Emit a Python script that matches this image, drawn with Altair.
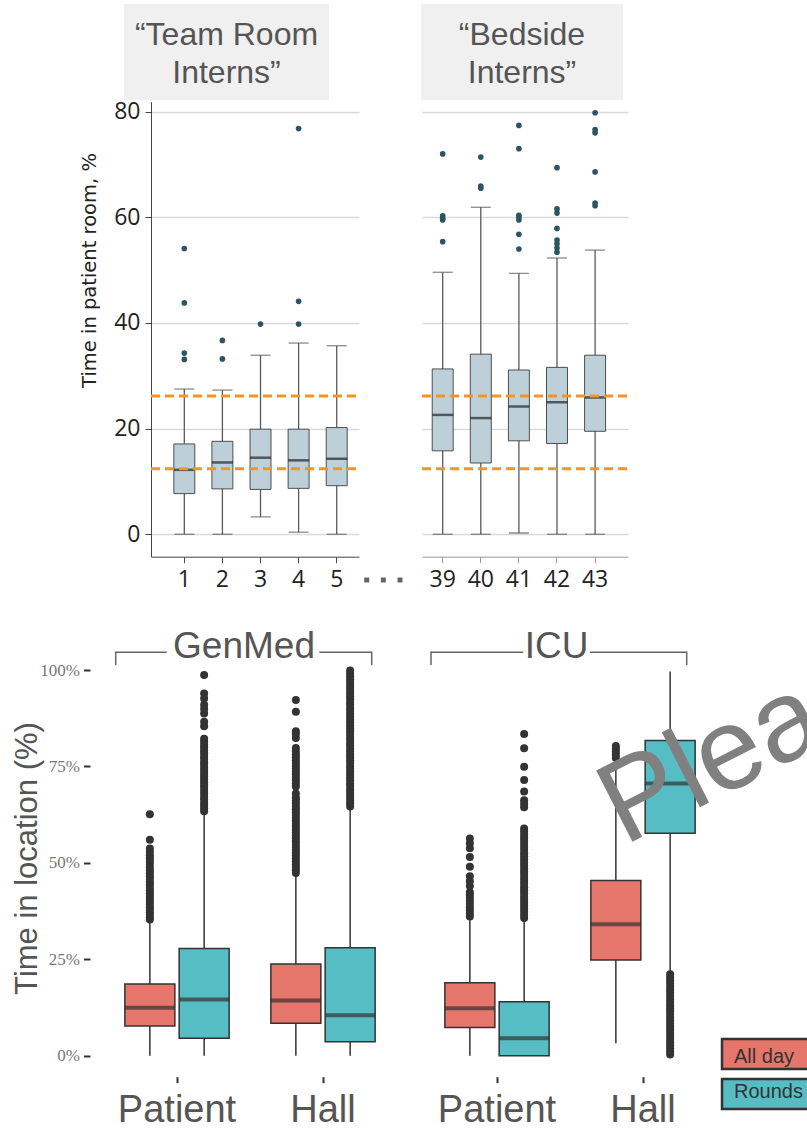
import altair as alt
import pandas as pd

W, H = 807, 1129
SANS = "Liberation Sans"
SERIF = "Liberation Serif"
UI = "Open Sans"
WIDE = "DejaVu Sans"

# ---------------- upper figure: time in patient room per intern (%) ----------------
team_ids = ["1", "2", "3", "4", "5"]
team_low = [0.0, 0.0, 3.3, 0.4, 0.0]
team_q1 = [7.7, 8.6, 8.5, 8.7, 9.2]
team_median = [12.2, 13.6, 14.5, 14.0, 14.3]
team_q3 = [17.1, 17.6, 19.9, 19.9, 20.2]
team_high = [27.5, 27.3, 33.9, 36.2, 35.7]
team_outliers = [[54.1, 43.8, 34.3, 33.1], [36.7, 33.2], [39.8], [76.8, 44.1, 39.8], []]

bedside_ids = ["39", "40", "41", "42", "43"]
bedside_low = [0.0, 0.0, 0.25, 0.0, 0.0]
bedside_q1 = [15.8, 13.5, 17.7, 17.2, 19.5]
bedside_median = [22.6, 22.0, 24.2, 25.0, 25.9]
bedside_q3 = [31.3, 34.1, 31.1, 31.6, 33.9]
bedside_high = [49.6, 61.9, 49.4, 52.3, 53.8]
bedside_outliers = [
    [72.0, 60.3, 59.8, 59.5, 55.4],
    [71.4, 65.9, 65.5],
    [77.4, 73.0, 60.4, 60.0, 59.5, 56.8, 54.0],
    [69.4, 61.6, 60.8, 57.9, 55.7, 55.0, 54.2, 53.4],
    [79.8, 76.6, 76.0, 68.6, 62.7, 62.2],
]
reference_levels = [12.4, 26.2]
room_ticks = [0, 20, 40, 60, 80]
panel_titles = ["“Team Room\nInterns”", "“Bedside\nInterns”"]
gap_marks = [0, 1, 2]

# ---------------- lower figure: time in location by unit (%) ----------------
units = ["GenMed", "ICU"]
locations = ["Patient", "Hall"]
periods = ["All day", "Rounds"]
period_colors = ["#E6756B", "#56BDC4"]
# boxes ordered Patient/All day, Patient/Rounds, Hall/All day, Hall/Rounds
genmed_low = [0.0, 0.0, 0.0, 0.0]
genmed_q1 = [7.7, 4.5, 8.4, 3.6]
genmed_median = [12.4, 14.6, 14.3, 10.5]
genmed_q3 = [18.6, 27.8, 23.8, 28.0]
genmed_high = [34.7, 62.7, 46.8, 64.1]
genmed_outliers = [
    [35.3, 35.9, 36.6, 37.2, 37.9, 38.5, 39.3, 40.0, 40.6, 41.4, 42.1, 42.8, 43.5, 44.3,
     45.0, 45.8, 46.5, 47.3, 48.1, 48.8, 49.7, 50.5, 51.2, 52.0, 52.9, 53.7, 56.0, 62.6],
    [63.4, 64.1, 64.9, 65.6, 66.4, 67.1, 67.9, 68.6, 69.4, 70.1, 70.9, 71.6, 72.4, 73.1,
     73.9, 74.6, 75.4, 76.1, 76.9, 77.6, 78.4, 79.1, 79.9, 80.6, 81.4, 82.2, 85.4, 86.6,
     88.7, 89.9, 91.0, 92.6, 93.9, 98.7],
    [47.4, 48.1, 48.9, 49.6, 50.4, 51.1, 51.9, 52.6, 53.4, 54.1, 54.9, 55.6, 56.4, 57.1,
     57.9, 58.6, 59.4, 60.1, 60.9, 61.6, 62.4, 63.1, 63.9, 64.6, 65.4, 66.1, 66.9, 68.0,
     69.8, 70.6, 71.4, 72.1, 72.9, 73.6, 74.4, 75.1, 75.9, 76.6, 77.4, 78.1, 78.9, 79.8,
     82.4, 83.5, 84.1, 89.2, 92.2],
    [64.6, 65.4, 66.1, 66.9, 67.6, 68.4, 69.1, 69.9, 70.6, 71.4, 72.1, 72.9, 73.6, 74.4,
     75.1, 75.9, 76.6, 77.4, 78.1, 78.9, 79.6, 80.4, 81.1, 81.9, 82.6, 83.4, 84.1, 84.9,
     85.6, 86.4, 87.1, 87.9, 88.6, 89.4, 90.1, 90.9, 91.6, 92.4, 93.1, 93.9, 94.6, 95.4,
     96.1, 96.9, 97.6, 98.4, 99.1, 99.9],
]
icu_low = [0.0, 0.0, 3.2, 21.8]
icu_q1 = [7.3, 0.0, 24.8, 57.7]
icu_median = [12.3, 4.5, 34.1, 70.6]
icu_q3 = [18.9, 14.0, 45.4, 81.7]
icu_high = [35.6, 35.2, 76.5, 99.6]
icu_outliers = [
    [36.1, 36.9, 37.7, 38.5, 39.3, 40.1, 40.9, 41.7, 42.4, 44.0, 45.2, 46.5, 49.0, 51.5,
     53.8, 55.1, 56.3],
    [35.7, 36.5, 37.3, 38.1, 38.9, 39.7, 40.5, 41.3, 42.1, 42.9, 43.7, 44.5, 45.3, 46.1,
     46.9, 47.7, 48.5, 49.3, 50.1, 50.9, 51.7, 52.5, 53.3, 54.1, 54.9, 55.7, 56.5, 57.3,
     58.1, 58.9, 64.4, 65.3, 66.2, 68.5, 71.5, 74.9, 79.7, 83.4],
    [77.2, 78.0, 78.8, 79.6, 80.3],
    [21.1, 20.3, 19.5, 18.7, 17.9, 17.1, 16.3, 15.5, 14.7, 13.9, 13.1, 12.3, 11.5, 10.7,
     9.9, 9.1, 8.3, 7.5, 6.7, 5.9, 5.1, 4.3, 3.5, 2.7, 1.9, 1.1, 0.3],
]
location_ticks = [0, 25, 50, 75, 100]
watermark = ["Please"]

# ---------------- layout of the page (pixels) ----------------
ROOM_Y_DOMAIN = [-4.24, 81.89]
ROOM_Y_RANGE = [556.7, 101.7]
ROOM_AXIS_Y = 556.7
LOC_Y_RANGE = [1055.7, 670.0]
LOC_AXIS_Y = 1076.7


def room_panel(ids, low, q1, med, q3, high, outliers, title, x_range, align, pad_outer,
               header_x, axis_color, labelled):
    stats = pd.DataFrame({"intern": ids, "low": low, "q1": q1, "median": med,
                          "q3": q3, "high": high})
    pts = pd.DataFrame([(i, v) for i, vals in zip(ids, outliers) for v in vals],
                       columns=["intern", "value"])

    x = alt.X("intern:N", sort=ids,
              scale=alt.Scale(domain=ids, range=x_range, paddingInner=0.45,
                              paddingOuter=pad_outer, align=align),
              axis=alt.Axis(orient="bottom", offset=ROOM_AXIS_Y - H, title=None,
                            labelAngle=0, grid=False, domainColor=axis_color,
                            tickColor=axis_color, tickSize=6, labelFont=UI,
                            labelFontSize=23, labelColor="#222", labelPadding=6))
    ys = alt.Scale(domain=ROOM_Y_DOMAIN, range=ROOM_Y_RANGE, nice=False, zero=False)
    if labelled:
        y_axis = alt.Axis(orient="left", offset=-x_range[0], values=room_ticks,
                          grid=True, gridColor="#D9D9D9", gridWidth=1.5,
                          domainColor="#444", tickColor="#444", tickSize=6,
                          labelFont=UI, labelFontSize=23, labelColor="#222",
                          labelPadding=5, title="Time in patient room, %",
                          titleFont=WIDE, titleFontSize=19.5, titleFontWeight="normal",
                          titleColor="#222", titleX=-62, titleY=270,
                          titleBaseline="middle")
    else:
        y_axis = alt.Axis(orient="left", offset=-x_range[0], values=room_ticks,
                          grid=True, gridColor="#D9D9D9", gridWidth=1.5,
                          domain=False, ticks=False, labels=False, title=None)

    def y(field):
        return alt.Y(f"{field}:Q", scale=ys, axis=y_axis)

    head = alt.Chart(pd.DataFrame({"title": [title]}))
    head_box = head.mark_rect(color="#F0F0F0").encode(
        x=alt.value(header_x[0]), x2=alt.value(header_x[1]),
        y=alt.value(4), y2=alt.value(100))
    head_text = head.mark_text(font=SANS, fontSize=32, color="#555", lineBreak="\n",
                               lineHeight=37.5, align="center", baseline="middle").encode(
        text="title:N", x=alt.value((header_x[0] + header_x[1]) / 2), y=alt.value(35))

    base = alt.Chart(stats)
    whisker = base.mark_rule(color="#5A5A5A", strokeWidth=1.3).encode(
        x=x, y=y("low"), y2="high:Q")
    box = base.mark_bar(color="#BDD0D9", stroke="#4D4D4D", strokeWidth=1).encode(
        x=x, y=y("q1"), y2="q3:Q")
    cap_low = base.mark_tick(color="#5A5A5A", size=20, thickness=1.3).encode(x=x, y=y("low"))
    cap_high = base.mark_tick(color="#5A5A5A", size=20, thickness=1.3).encode(x=x, y=y("high"))
    median = base.mark_tick(color="#222", size=21, thickness=2.5).encode(x=x, y=y("median"))
    refs = alt.Chart(pd.DataFrame({"level": reference_levels})).mark_rule(
        color="#F7941E", strokeWidth=3, strokeDash=[9, 5]).encode(
        y=y("level"), x=alt.value(x_range[0]), x2=alt.value(x_range[1]))
    dots = alt.Chart(pts).mark_circle(color="#2B5563", size=32, opacity=1).encode(
        x=x, y=y("value"))
    return alt.layer(head_box, head_text, whisker, box, cap_low, cap_high, median,
                     refs, dots)


period_color = alt.Color("period:N", scale=alt.Scale(domain=periods, range=period_colors),
                         legend=None)


def unit_panel(unit, low, q1, med, q3, high, outliers, x_range, bracket_x, gap_x,
               label_x, with_y_axis):
    keys = [(loc, per) for loc in locations for per in periods]
    stats = pd.DataFrame({"location": [k[0] for k in keys], "period": [k[1] for k in keys],
                          "low": low, "q1": q1, "median": med, "q3": q3, "high": high})
    pts = pd.DataFrame([(k[0], k[1], v) for k, vals in zip(keys, outliers) for v in vals],
                       columns=["location", "period", "value"])

    x = alt.X("location:N", sort=locations,
              scale=alt.Scale(domain=locations, range=x_range, paddingInner=0,
                              paddingOuter=0),
              axis=alt.Axis(orient="bottom", offset=LOC_AXIS_Y - H, title=None,
                            domain=False, grid=False, labelAngle=0, tickSize=6,
                            tickWidth=2, tickColor="#333", labelFont=SANS,
                            labelFontSize=38, labelColor="#555", labelPadding=9))
    xo = alt.XOffset("period:N", sort=periods,
                     scale=alt.Scale(domain=periods, paddingInner=0.079,
                                     paddingOuter=0.384))
    ys = alt.Scale(domain=[0, 100], range=LOC_Y_RANGE, nice=False, zero=False)
    if with_y_axis:
        y_axis = alt.Axis(orient="left", offset=-90, values=location_ticks, domain=False,
                          grid=False, tickSize=6.5, tickWidth=2, tickColor="#333",
                          labelExpr="datum.value + '%'", labelFont=SERIF,
                          labelFontSize=17, labelColor="#777", labelPadding=4,
                          title="Time in location (%)", titleFont=SANS,
                          titleFontSize=31, titleFontWeight="normal",
                          titleColor="#555", titleX=-63, titleY=858,
                          titleBaseline="middle")
    else:
        y_axis = None

    def y(field):
        return alt.Y(f"{field}:Q", scale=ys, axis=y_axis)

    base = alt.Chart(stats)
    whisker = base.mark_rule(color="#333", strokeWidth=1.5).encode(
        x=x, xOffset=xo, y=y("low"), y2="high:Q")
    box = base.mark_bar(stroke="#333", strokeWidth=1.5).encode(
        x=x, xOffset=xo, y=y("q1"), y2="q3:Q", color=period_color)
    median = base.mark_tick(color="#333", size=50, thickness=4).encode(
        x=x, xOffset=xo, y=y("median"))
    dots = alt.Chart(pts).mark_circle(color="#333", size=64, opacity=1).encode(
        x=x, xOffset=xo, y=y("value"))

    label = alt.Chart(pd.DataFrame({"unit": [unit]}))
    line = dict(color="#666", strokeWidth=1.5)
    bracket = [
        label.mark_rule(**line).encode(x=alt.value(bracket_x[0]), x2=alt.value(gap_x[0]),
                                       y=alt.value(652.3)),
        label.mark_rule(**line).encode(x=alt.value(gap_x[1]), x2=alt.value(bracket_x[1]),
                                       y=alt.value(652.3)),
        label.mark_rule(**line).encode(x=alt.value(bracket_x[0]), y=alt.value(651.6),
                                       y2=alt.value(665)),
        label.mark_rule(**line).encode(x=alt.value(bracket_x[1]), y=alt.value(651.6),
                                       y2=alt.value(665)),
        label.mark_text(font=SANS, fontSize=37, color="#555", align="center",
                        baseline="alphabetic").encode(
            text="unit:N", x=alt.value(label_x), y=alt.value(658.3)),
    ]
    return alt.layer(whisker, box, median, dots, *bracket)


team = room_panel(team_ids, team_low, team_q1, team_median, team_q3, team_high,
                  team_outliers, panel_titles[0], [151, 359], 0.659, 0.4547,
                  [124, 329], "#444", True)
bedside = room_panel(bedside_ids, bedside_low, bedside_q1, bedside_median, bedside_q3,
                     bedside_high, bedside_outliers, panel_titles[1], [422, 628], 0.313,
                     0.4284, [421, 623], "#999", False)

ellipsis = alt.Chart(pd.DataFrame({"step": gap_marks})).mark_square(
    size=25, color="#666", opacity=1).encode(
    x=alt.X("step:Q", scale=alt.Scale(domain=[0, 2], range=[366.7, 400]), axis=None),
    y=alt.value(580))

genmed = unit_panel(units[0], genmed_low, genmed_q1, genmed_median, genmed_q3, genmed_high,
                    genmed_outliers, [104, 396], [115.7, 371.7], [166.7, 319.3], 244,
                    True)
icu = unit_panel(units[1], icu_low, icu_q1, icu_median, icu_q3, icu_high, icu_outliers,
                 [424, 716], [431, 686.7], [523.3, 590], 556.7, False)

legend_df = pd.DataFrame({"period": periods})
legend_y = alt.Y("period:N", sort=periods,
                 scale=alt.Scale(domain=periods, range=[1039, 1109], paddingInner=0.25,
                                 paddingOuter=0), axis=None)
legend_box = alt.Chart(legend_df).mark_rect(stroke="#333", strokeWidth=2.5).encode(
    y=legend_y, x=alt.value(722), x2=alt.value(840), color=period_color)
legend_text = alt.Chart(legend_df).mark_text(font=SANS, fontSize=20, color="#333",
                                             align="left", baseline="middle").encode(
    y=legend_y, x=alt.value(734), text="period:N")

stamp = alt.Chart(pd.DataFrame({"text": watermark})).mark_text(
    font=SANS, fontSize=116, color="#808080", angle=333, align="left",
    baseline="alphabetic").encode(text="text:N", x=alt.value(624), y=alt.value(846))

chart = (
    alt.layer(team, bedside, ellipsis, genmed, icu, legend_box, legend_text, stamp)
    .resolve_scale(x="independent", y="independent", xOffset="independent")
    .properties(width=W, height=H, padding=0, autosize=alt.AutoSizeParams(type="none"),
                background="white")
    .configure_view(stroke=None)
)

chart.save("out.html", embed_options={"renderer": "svg", "actions": False})
